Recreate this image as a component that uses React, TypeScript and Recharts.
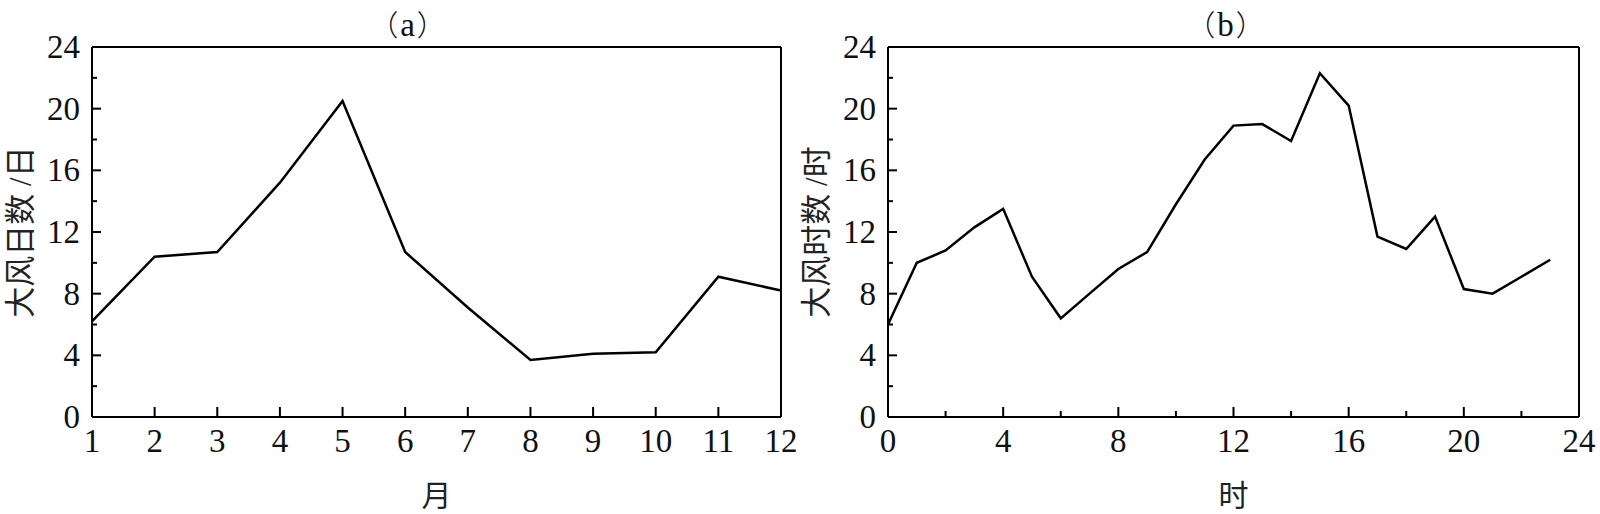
import React from 'react';
import { LineChart, Line, XAxis, YAxis, ReferenceLine } from 'recharts';

// ---------- data ----------
const months = [1, 2, 3, 4, 5, 6, 7, 8, 9, 10, 11, 12];
const galeDays = [6.2, 10.4, 10.7, 15.2, 20.5, 10.7, 7.1, 3.7, 4.1, 4.2, 9.1, 8.2];

const hours = [0, 1, 2, 3, 4, 5, 6, 7, 8, 9, 10, 11, 12, 13, 14, 15, 16, 17, 18, 19, 20, 21, 22, 23];
const galeHours = [6.0, 10.0, 10.8, 12.3, 13.5, 9.1, 6.4, 8.0, 9.6, 10.7, 13.8, 16.7, 18.9, 19.0, 17.9, 22.3, 20.2, 11.7, 10.9, 13.0, 8.3, 8.0, 9.1, 10.2];

const yTicks = [0, 2, 4, 6, 8, 10, 12, 14, 16, 18, 20, 22, 24];
const yLabelled = [0, 4, 8, 12, 16, 20, 24];
const monthTicks = [1, 2, 3, 4, 5, 6, 7, 8, 9, 10, 11, 12];
const hourTicks = [0, 2, 4, 6, 8, 10, 12, 14, 16, 18, 20, 22, 24];
const hourLabelled = [0, 4, 8, 12, 16, 20, 24];

const titleA = 'a';
const titleB = 'b';
const yLabelA = '大风日数 /日';
const yLabelB = '大风时数 /时';
const xLabelA = '月';
const xLabelB = '时';

const dayData = months.map((m, i) => ({ x: m, v: galeDays[i] }));
const hourData = hours.map((h, i) => ({ x: h, v: galeHours[i] }));

// ---------- styles ----------
const SERIF = "'Liberation Serif', 'Times New Roman', serif";
const MIXED = "'Liberation Serif', 'Noto Sans CJK SC', serif";
const CJK = "'Noto Sans CJK SC', sans-serif";
const TICK_FS = 33;
const Y_MARGIN = 12;
const MAJOR = 9;
const MINOR = 5;

const makeYTick = (labelled: number[]) => (props: any) => {
  const { x, y, payload } = props;
  const axisX = x + Y_MARGIN;
  const isMajor = labelled.includes(payload.value);
  return (
    <g>
      <line x1={axisX} x2={axisX + (isMajor ? MAJOR : MINOR)} y1={y} y2={y} stroke="#000" strokeWidth={2} />
      {isMajor && (
        <text x={x} y={y + 11} textAnchor="end" fontFamily={SERIF} fontSize={TICK_FS} fill="#111">
          {payload.value}
        </text>
      )}
    </g>
  );
};

const makeXTick = (labelled: number[] | null) => (props: any) => {
  const { x, y, payload } = props;
  const isMajor = labelled === null || labelled.includes(payload.value);
  return (
    <g>
      <line x1={x} x2={x} y1={y} y2={y - (isMajor ? 10 : 6)} stroke="#000" strokeWidth={2} />
      {isMajor && (
        <text x={x} y={y + 35} textAnchor="middle" fontFamily={SERIF} fontSize={TICK_FS} fill="#111">
          {payload.value}
        </text>
      )}
    </g>
  );
};

const yAxisLabel = (text: string) => (props: any) => {
  const vb = props.viewBox || {};
  const cx = vb.x + vb.width - 72;
  const cy = vb.y + vb.height / 2;
  return (
    <text
      x={cx}
      y={cy}
      transform={`rotate(-90, ${cx}, ${cy})`}
      textAnchor="middle"
      dominantBaseline="central"
      fontFamily={MIXED}
      fontSize={31}
      fill="#222"
    >
      {text}
    </text>
  );
};

const xAxisLabel = (text: string) => (props: any) => {
  const vb = props.viewBox || {};
  return (
    <text
      x={vb.x + vb.width / 2}
      y={vb.y + 78}
      textAnchor="middle"
      dominantBaseline="central"
      fontFamily={MIXED}
      fontSize={30}
      fill="#222"
    >
      {text}
    </text>
  );
};

const titleLabel = (text: string, shift: number) => (props: any) => {
  const vb = props.viewBox || {};
  return (
    <text
      x={vb.x + vb.width / 2 + shift}
      y={vb.y - 11}
      textAnchor="middle"
      fontFamily={CJK}
      fontWeight={300}
      fontSize={29}
      fill="#111"
    >
      （
      <tspan fontFamily={SERIF} fontSize={33} fontWeight={400} dx={2}>
        {text}
      </tspan>
      <tspan dx={2}>）</tspan>
    </text>
  );
};

interface PanelProps {
  data: { x: number; v: number }[];
  xDomain: [number, number];
  xTicks: number[];
  xLabelled: number[] | null;
  title: string;
  titleShift: number;
  yLabel: string;
  xLabel: string;
  marginLeft: number;
  marginRight: number;
}

const Panel = (p: PanelProps) => (
  <LineChart
    width={800}
    height={514}
    data={p.data}
    margin={{ top: 47, right: p.marginRight, bottom: 67, left: p.marginLeft }}
  >
    <XAxis
      dataKey="x"
      type="number"
      domain={p.xDomain}
      ticks={p.xTicks}
      interval={0}
      height={30}
      tickSize={0}
      tickMargin={0}
      tickLine={false}
      axisLine={{ stroke: '#000', strokeWidth: 2 }}
      tick={makeXTick(p.xLabelled)}
      label={xAxisLabel(p.xLabel)}
      allowDataOverflow
    />
    <YAxis
      type="number"
      domain={[0, 24]}
      ticks={yTicks}
      interval={0}
      width={60}
      tickSize={0}
      tickMargin={Y_MARGIN}
      tickLine={false}
      axisLine={{ stroke: '#000', strokeWidth: 2 }}
      tick={makeYTick(yLabelled)}
      label={yAxisLabel(p.yLabel)}
    />
    <ReferenceLine y={24} stroke="#000" strokeWidth={2} label={titleLabel(p.title, p.titleShift)} />
    <ReferenceLine x={p.xDomain[1]} stroke="#000" strokeWidth={2} />
    <Line
      dataKey="v"
      type="linear"
      stroke="#000"
      strokeWidth={2.5}
      dot={false}
      activeDot={false}
      isAnimationActive={false}
    />
  </LineChart>
);

export default function App() {
  return (
    <div style={{ position: 'absolute', left: 0, top: 0, width: 1600, height: 514, background: '#fff', display: 'flex' }}>
      <Panel
        data={dayData}
        xDomain={[1, 12]}
        xTicks={monthTicks}
        xLabelled={null}
        title={titleA}
        titleShift={-29}
        yLabel={yLabelA}
        xLabel={xLabelA}
        marginLeft={32}
        marginRight={19}
      />
      <Panel
        data={hourData}
        xDomain={[0, 24]}
        xTicks={hourTicks}
        xLabelled={hourLabelled}
        title={titleB}
        titleShift={-8}
        yLabel={yLabelB}
        xLabel={xLabelB}
        marginLeft={28}
        marginRight={21}
      />
    </div>
  );
}
